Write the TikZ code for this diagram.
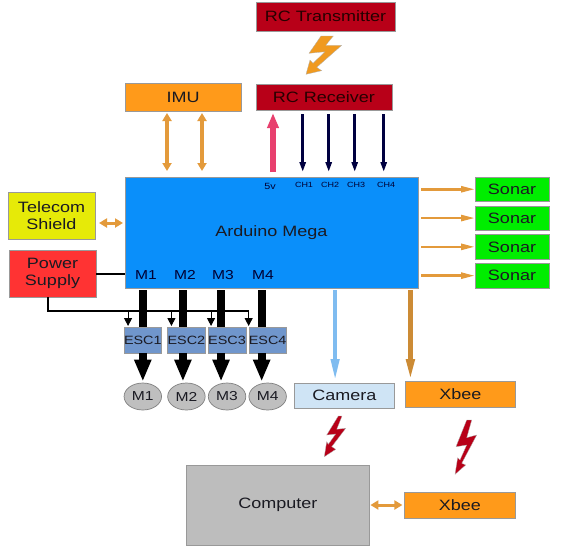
\documentclass[tikz,border=0pt]{standalone}
\usepackage{fontspec}
\setmainfont[FakeStretch=1.2]{Liberation Sans}
\usetikzlibrary{shapes,arrows.meta,positioning}
\definecolor{boxorange}{HTML}{FF9A1A}
\definecolor{boxred}{HTML}{B80018}
\definecolor{boardblue}{HTML}{0A8FFA}
\definecolor{wireorange}{HTML}{E39A3B}
\definecolor{boltorange}{HTML}{F09A20}
\definecolor{textdark}{HTML}{1A1A22}
\definecolor{escblue}{HTML}{7096CC}
\definecolor{camblue}{HTML}{CFE4F5}
\definecolor{linkblue}{HTML}{7FBCF0}
\definecolor{pwrpink}{HTML}{E8406E}

\begin{document}
\begin{tikzpicture}[x=1pt, y=-1pt,
  block/.style={rectangle, draw=black!40, line width=0.6pt, inner sep=0pt, outer sep=0pt, align=center, text=textdark, font=\fontsize{15}{17}\selectfont},
  imubox/.style={block, fill=boxorange, minimum width=116pt, minimum height=28pt},
  rcbox/.style={block, fill=boxred, text=black!85!red},
  sonarbox/.style={block, fill=green!93!black, minimum width=74pt, minimum height=24.5pt},
  escbox/.style={block, fill=escblue, font=\fontsize{12}{14}\selectfont, minimum width=37.5pt, minimum height=26pt},
  motor/.style={ellipse, draw=black!50, line width=0.7pt, fill=black!25, inner sep=0pt, outer sep=0pt, text=textdark, font=\fontsize{13}{15}\selectfont, minimum width=37.5pt, minimum height=27pt},
  tag/.style={inner sep=0pt, text=black!80!blue, font=\fontsize{#1}{#1}\selectfont},
  twoway/.style={{Triangle[width=9pt,length=8pt]}-{Triangle[width=9pt,length=8pt]}, wireorange, line width=3pt},
  sonarline/.style={-{Triangle[width=6pt,length=14pt]}, wireorange, line width=2.5pt},
  chline/.style={-{Triangle[width=6pt,length=10pt]}, black!75!blue, line width=2.5pt},
  feed/.style={-{Triangle[width=8pt,length=8pt]}, black, line width=1pt},
  shaft/.style={black, line width=8pt},
  bolt/.style={draw=black!30, line width=0.3pt}]
\useasboundingbox (0,0) rectangle (561,552);
\node[block, fill=boardblue, minimum width=293pt, minimum height=111pt] (ard) at (271.5,232.5) {Arduino Mega};
\node[imubox, above=66pt of ard.north west, anchor=south west] (imu) {IMU};
\node[rcbox, minimum width=136pt, minimum height=26pt, right=15pt of imu] (rx) {RC Receiver};
\node[rcbox, minimum width=139pt, minimum height=29pt, above=53pt of rx.north west, anchor=south west] (tx) {RC Transmitter};
\node[sonarbox, right=57pt of ard.north east, anchor=north west] (s1) {Sonar};
\node[sonarbox, below=4.3pt of s1] (s2) {Sonar};
\node[sonarbox, below=4.3pt of s2] (s3) {Sonar};
\node[sonarbox, below=4.3pt of s3] (s4) {Sonar};
\node[block, fill=yellow!90!green, minimum width=87pt, minimum height=47pt, left=30pt of ard.west, yshift=17pt] (telecom) {Telecom\\ Shield};
\node[block, fill=red!80!white, minimum width=87pt, minimum height=47pt, left=29pt of ard.west, yshift=-41pt] (power) {Power\\ Supply};
\node[escbox, below=39pt of ard.south west, anchor=north west, xshift=-1pt] (esc1) {ESC1};
\node[escbox, right=6pt of esc1] (esc2) {ESC2};
\node[escbox, right=3pt of esc2] (esc3) {ESC3};
\node[escbox, right=3pt of esc3] (esc4) {ESC4};
\node[motor, below=30pt of esc1] (m1) {M1};
\node[motor, below=30pt of esc2] (m2) {M2};
\node[motor, below=30pt of esc3] (m3) {M3};
\node[motor, below=30pt of esc4] (m4) {M4};
\node[block, fill=camblue, minimum width=100pt, minimum height=25pt, right=8pt of m4, yshift=1pt] (cam) {Camera};
\node[block, fill=boxorange, minimum width=110pt, minimum height=26pt, right=11pt of cam, yshift=1.5pt] (xb1) {Xbee};
\node[block, fill=black!26, minimum width=183pt, minimum height=80pt, below=57pt of cam.south west, anchor=north west, xshift=-108pt] (comp) {Computer};
\node[block, fill=boxorange, minimum width=111pt, minimum height=26pt, right=35pt of comp] (xb2) {Xbee};
\node[tag=9] (v5) at (270,186) {5v};
\node[tag=7.5] (ch1) at (304,185) {CH1};
\node[tag=7.5] (ch2) at (330,185) {CH2};
\node[tag=7.5] (ch3) at (356,185) {CH3};
\node[tag=7.5] (ch4) at (386,185) {CH4};
\node[tag=13] (p1) at (146,275) {M1};
\node[tag=13] (p2) at (185,275) {M2};
\node[tag=13] (p3) at (223,275) {M3};
\node[tag=13] (p4) at (263,275) {M4};
\foreach \off in {-16,19} \draw[twoway, line width=4pt, shorten <=2pt, shorten >=6pt] ([xshift=\off pt]imu.south) -- ([xshift=\off pt]imu.south |- ard.north);
\draw[-{Triangle[width=11pt,length=15pt]}, pwrpink, line width=5.5pt, shorten <=5pt, shorten >=3pt] ([xshift=-51pt]rx.south |- ard.north) -- ([xshift=-51pt]rx.south);
\foreach \off in {-21.3,4.7,30.7,59.7} \draw[chline, shorten <=4pt, shorten >=5pt] ([xshift=\off pt]rx.south) -- ([xshift=\off pt]rx.south |- ard.north);
\draw[twoway, shorten <=4pt, shorten >=2pt] ([yshift=-7.5pt]telecom.east) -- ([yshift=-7.5pt]telecom.east -| ard.west);
\draw[black, line width=2pt] (power.east) -- (power.east -| ard.west);
\draw[black, line width=1.3pt] ([xshift=-4.5pt]power.south) |- ([xshift=-19pt, yshift=16pt]esc4.north);
\foreach \i/\off in {1/-14.75,2/-15,3/-16,4/-19} \draw[feed] ([xshift=\off pt, yshift=16pt]esc\i.north) -- ([xshift=\off pt, yshift=1pt]esc\i.north);
\foreach \i/\off in {1/0,2/-3.5,3/-6,4/-6} {
  \draw[shaft, shorten <=2pt] ([xshift=\off pt]esc\i.north |- ard.south) -- ([xshift=\off pt]esc\i.north);
  \draw[shaft, -{Triangle[width=16pt,length=22pt]}, shorten >=1.5pt] ([xshift=\off pt]esc\i.south) -- ([xshift=\off pt]esc\i.south |- m\i.north);
}
\foreach \s in {s1,s2,s3,s4} \draw[sonarline, shorten <=3pt] (ard.east |- \s.west) -- (\s.west);
\draw[-{Triangle[width=8pt,length=22pt]}, linkblue, line width=4pt, shorten <=2pt, shorten >=2pt] ([xshift=-9.3pt]cam.north |- ard.south) -- ([xshift=-9.3pt]cam.north);
\draw[-{Triangle[width=8pt,length=22pt]}, wireorange!90!black, line width=4.5pt, shorten <=2pt] ([xshift=-50pt]xb1.north |- ard.south) -- ([xshift=-50pt]xb1.north);
\draw[twoway, shorten <=2pt, shorten >=1pt] (xb2.west) -- (xb2.west -| comp.east);
\fill[boltorange, bolt] (321,36) -- (333.3,36) -- (325.7,45.3) -- (341.7,45.3) -- (316.7,67.3) -- (321.7,70.7) -- (306,74.3) -- (310,60) -- (313,63.3) -- (325,51.7) -- (309,53.3) -- cycle;
\fill[boxred, bolt] (338.3,416) -- (342,416) -- (336.7,429.3) -- (345.7,428.3) -- (331.7,446.7) -- (335.7,449.3) -- (324.3,456.7) -- (326.7,441.7) -- (328.3,444.3) -- (335.7,434) -- (326.7,435) -- cycle;
\fill[boxred, bolt] (466.7,420) -- (471.7,420) -- (466.7,437.7) -- (476.7,435) -- (461.7,463.3) -- (465.7,465) -- (455,474.3) -- (457.7,457.7) -- (460,460) -- (466.7,445) -- (456,446.7) -- cycle;
\end{tikzpicture}
\end{document}
